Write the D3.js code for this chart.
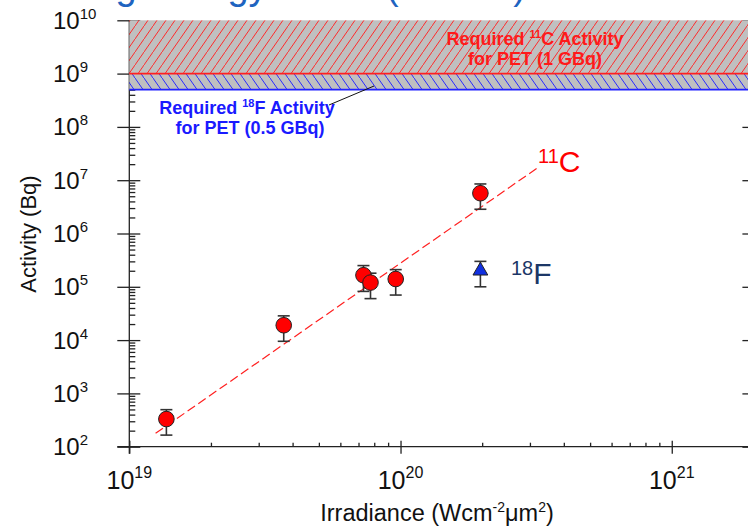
<!DOCTYPE html>
<html>
<head>
<meta charset="utf-8">
<script src="https://cdn.jsdelivr.net/npm/d3@7"></script>
<style>
body { margin: 0; background: #fff; }
svg { display: block; }
text { font-family: "Liberation Sans", Arial, sans-serif; }
</style>
</head>
<body>
<svg id="chart" width="748" height="529"></svg>
<script>
// 11C points (irradiance W/cm2 um2, activity Bq)
var c11Irr = [1.37e19, 3.71e19, 7.3e19, 7.75e19, 9.6e19, 1.97e20];
var c11Act = [330, 1.9e4, 1.65e5, 1.2e5, 1.4e5, 5.7e6];
var c11Lo  = [165, 9.5e3, 8.2e4, 6e4, 7e4, 2.85e6];
var c11Hi  = [495, 2.85e4, 2.5e5, 1.8e5, 2.1e5, 8.5e6];
// 18F point
var f18Irr = [1.97e20];
var f18Act = [2.0e5];
var f18Lo  = [1.0e5];
var f18Hi  = [3.0e5];
// dashed fit line ends
var fitIrr = [1.25e19, 3.25e20];
var fitAct = [178, 1.8e7];
// required activity bands
var c11Band = [1e9, 1e10];
var f18Band = [5e8, 1e9];
// tick labels
var yDecades = [2, 3, 4, 5, 6, 7, 8, 9, 10];
var xDecades = [19, 20, 21];

var svg = d3.select("#chart");
var x = d3.scaleLog().domain([1e19, 2e21]).range([129.3, 753.4]);
var y = d3.scaleLog().domain([1e2, 1e10]).range([446.7, 20.3]);

var xLeft = x.range()[0], xRight = x.range()[1];
var yBottom = y.range()[0], yTop = y.range()[1];

// title (clipped at the top of the slide)
svg.append("text")
	.attr("x", 526).attr("y", -1)
	.attr("text-anchor", "end")
	.attr("font-size", 38)
	.attr("fill", "#1f64c0")
	.text("Activity Scaling with Increasing Energy Shots (Vulcan)");

// patterns
var defs = svg.append("defs");
var pr = defs.append("pattern").attr("id", "hatchRed")
	.attr("patternUnits", "userSpaceOnUse").attr("width", 9).attr("height", 13);
pr.append("rect").attr("width", 9).attr("height", 13).attr("fill", "#c0c0c0");
pr.append("line").attr("x1", -0.5).attr("y1", 13.7).attr("x2", 9.5).attr("y2", -0.7)
	.attr("stroke", "#ff2a2a").attr("stroke-width", 1);
var pb = defs.append("pattern").attr("id", "hatchBlue")
	.attr("patternUnits", "userSpaceOnUse").attr("width", 9).attr("height", 13);
pb.append("rect").attr("width", 9).attr("height", 13).attr("fill", "#c0c0c0");
pb.append("line").attr("x1", -0.5).attr("y1", -0.7).attr("x2", 9.5).attr("y2", 13.7)
	.attr("stroke", "#2a2aff").attr("stroke-width", 1);

// ticks
var isDecade = function(v){ return Math.abs(Math.log10(v) - Math.round(Math.log10(v))) < 1e-6; };
var xMinor = x.ticks().filter(function(v){ return !isDecade(v); });
var yMinor = y.ticks().filter(function(v){ return !isDecade(v); });
var xMajor = xDecades.map(function(d){ return Math.pow(10, d); });
var yMajor = yDecades.map(function(d){ return Math.pow(10, d); });

var axisColor = "#222";
var styleAxis = function(g){
	g.select(".domain").remove();
	g.selectAll("line").attr("stroke", axisColor).attr("stroke-width", 1.3);
	g.selectAll("text").remove();
};

// left axis
svg.append("g").attr("transform", "translate(" + xLeft + ",0)")
	.call(d3.axisLeft(y).tickValues(yMajor).tickSize(12)).call(styleAxis);
svg.append("g").attr("transform", "translate(" + xLeft + ",0)")
	.call(d3.axisRight(y).tickValues(yMajor).tickSize(11)).call(styleAxis);
svg.append("g").attr("transform", "translate(" + xLeft + ",0)")
	.call(d3.axisRight(y).tickValues(yMinor).tickSize(6)).call(styleAxis);
// right axis (mostly off the page)
svg.append("g").attr("transform", "translate(" + xRight + ",0)")
	.call(d3.axisLeft(y).tickValues(yMajor).tickSize(11)).call(styleAxis);
// bottom axis
svg.append("g").attr("transform", "translate(0," + yBottom + ")")
	.call(d3.axisBottom(x).tickValues(xMajor).tickSize(7)).call(styleAxis);
svg.append("g").attr("transform", "translate(0," + yBottom + ")")
	.call(d3.axisTop(x).tickValues(xMajor).tickSize(6)).call(styleAxis);
svg.append("g").attr("transform", "translate(0," + yBottom + ")")
	.call(d3.axisTop(x).tickValues(xMinor).tickSize(4)).call(styleAxis);

svg.append("line").attr("x1", xLeft).attr("x2", xLeft)
	.attr("y1", yTop).attr("y2", yBottom + 7)
	.attr("stroke", axisColor).attr("stroke-width", 1.3);
svg.append("line").attr("x1", xLeft - 12).attr("x2", xRight)
	.attr("y1", yBottom).attr("y2", yBottom)
	.attr("stroke", axisColor).attr("stroke-width", 1.3);

// bands
svg.append("rect")
	.attr("x", xLeft).attr("y", y(c11Band[1]))
	.attr("width", xRight - xLeft).attr("height", y(c11Band[0]) - y(c11Band[1]))
	.attr("fill", "url(#hatchRed)");
svg.append("rect")
	.attr("x", xLeft).attr("y", y(f18Band[1]))
	.attr("width", xRight - xLeft).attr("height", y(f18Band[0]) - y(f18Band[1]))
	.attr("fill", "url(#hatchBlue)");
svg.append("line").attr("x1", xLeft).attr("x2", xRight)
	.attr("y1", y(f18Band[0])).attr("y2", y(f18Band[0]))
	.attr("stroke", "#2020ff").attr("stroke-width", 1.6);
svg.append("line").attr("x1", xLeft).attr("x2", xRight)
	.attr("y1", y(c11Band[0])).attr("y2", y(c11Band[0]))
	.attr("stroke", "#ff2020").attr("stroke-width", 1.6);

// tick labels
yDecades.forEach(function(d){
	var t = svg.append("text")
		.attr("x", 53).attr("y", y(Math.pow(10, d)) + 8.5)
		.attr("font-size", 24).attr("fill", "#111");
	t.append("tspan").text("10");
	t.append("tspan").attr("dy", -10).attr("font-size", 15).text(d);
});
xDecades.forEach(function(d){
	var t = svg.append("text")
		.attr("x", x(Math.pow(10, d))).attr("y", 489)
		.attr("text-anchor", "middle")
		.attr("font-size", 25).attr("fill", "#111");
	t.append("tspan").text("10");
	t.append("tspan").attr("dy", -11).attr("font-size", 16).text(d);
});

// axis titles
var xt = svg.append("text")
	.attr("x", 437).attr("y", 521)
	.attr("text-anchor", "middle")
	.attr("font-size", 23.5).attr("fill", "#111");
xt.append("tspan").text("Irradiance (Wcm");
xt.append("tspan").attr("dy", -9).attr("font-size", 14).text("-2");
xt.append("tspan").attr("dy", 9).text("\u03bcm");
xt.append("tspan").attr("dy", -9).attr("font-size", 14).text("2");
xt.append("tspan").attr("dy", 9).text(")");

svg.append("text")
	.attr("transform", "translate(36,234) rotate(-90)")
	.attr("text-anchor", "middle")
	.attr("font-size", 22).attr("fill", "#111")
	.text("Activity (Bq)");

// band labels
var redLbl = svg.append("g").attr("fill", "#ff1a1a").attr("font-weight", "bold")
	.attr("font-size", 18).attr("text-anchor", "middle");
var r1 = redLbl.append("text").attr("x", 535).attr("y", 45);
r1.append("tspan").text("Required ");
r1.append("tspan").attr("dy", -7).attr("font-size", 11).text("11");
r1.append("tspan").attr("dy", 7).text("C Activity");
redLbl.append("text").attr("x", 535).attr("y", 64.5).text("for PET (1 GBq)");

var blueLbl = svg.append("g").attr("fill", "#1a1aff").attr("font-weight", "bold")
	.attr("font-size", 18).attr("text-anchor", "middle");
var b1 = blueLbl.append("text").attr("x", 247).attr("y", 114);
b1.append("tspan").text("Required ");
b1.append("tspan").attr("dy", -7).attr("font-size", 11).text("18");
b1.append("tspan").attr("dy", 7).text("F Activity");
blueLbl.append("text").attr("x", 250).attr("y", 133.5).text("for PET (0.5 GBq)");

svg.append("line")
	.attr("x1", 329).attr("y1", 105).attr("x2", 374).attr("y2", 86)
	.attr("stroke", "#111").attr("stroke-width", 1);

// fit line
svg.append("line")
	.attr("x1", x(fitIrr[0])).attr("y1", y(fitAct[0]))
	.attr("x2", x(fitIrr[1])).attr("y2", y(fitAct[1]))
	.attr("stroke", "#ff2020").attr("stroke-width", 1.2)
	.attr("stroke-dasharray", "9,4");

// error bars
var drawErr = function(xs, lo, hi){
	for (var i = 0; i < xs.length; i++) {
		var cx = x(xs[i]);
		var g = svg.append("g").attr("stroke", "#333").attr("stroke-width", 1.6);
		g.append("line").attr("x1", cx).attr("x2", cx).attr("y1", y(hi[i])).attr("y2", y(lo[i]));
		g.append("line").attr("x1", cx - 6).attr("x2", cx + 6).attr("y1", y(hi[i])).attr("y2", y(hi[i]));
		g.append("line").attr("x1", cx - 6).attr("x2", cx + 6).attr("y1", y(lo[i])).attr("y2", y(lo[i]));
	}
};
drawErr(c11Irr, c11Lo, c11Hi);
drawErr(f18Irr, f18Lo, f18Hi);

// markers
c11Irr.forEach(function(v, i){
	svg.append("circle")
		.attr("cx", x(v)).attr("cy", y(c11Act[i])).attr("r", 7.8)
		.attr("fill", "#ff0000").attr("stroke", "#222").attr("stroke-width", 1);
});
f18Irr.forEach(function(v, i){
	svg.append("path")
		.attr("d", d3.symbol().type(d3.symbolTriangle).size(95)())
		.attr("transform", "translate(" + x(v) + "," + y(f18Act[i]) + ")")
		.attr("fill", "#1030e0").attr("stroke", "#222").attr("stroke-width", 1);
});

// series labels
var cl = svg.append("text").attr("x", 538).attr("y", 172)
	.attr("font-size", 30).attr("fill", "#ff0000");
cl.append("tspan").attr("dy", -9).attr("font-size", 20).text("11");
cl.append("tspan").attr("dy", 9).text("C");

var fl = svg.append("text").attr("x", 511).attr("y", 284)
	.attr("font-size", 30).attr("fill", "#1c3766");
fl.append("tspan").attr("dy", -9).attr("font-size", 20).text("18");
fl.append("tspan").attr("dy", 9).text("F");
</script>
</body>
</html>
